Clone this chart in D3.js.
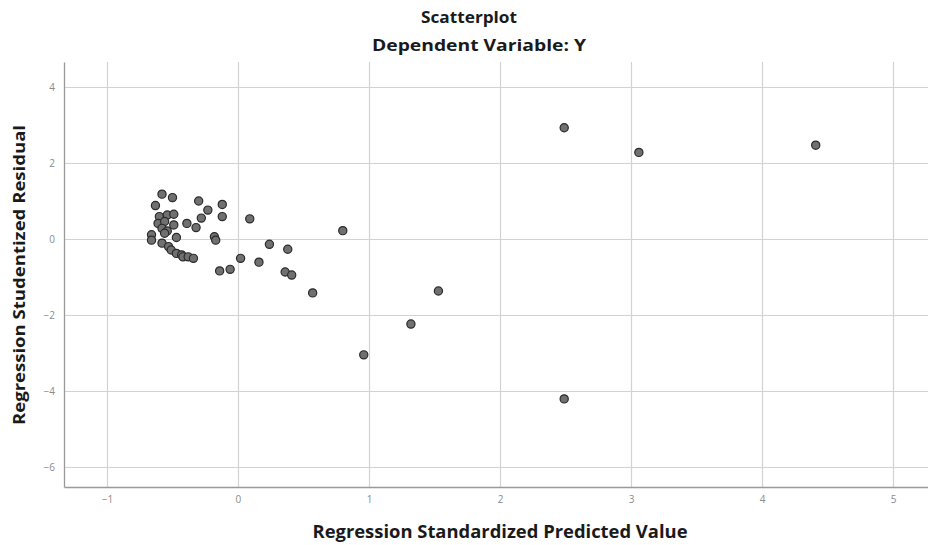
<!DOCTYPE html>
<html>
<head>
<meta charset="utf-8">
<script src="https://cdn.jsdelivr.net/npm/d3@7"></script>
<style>
  body { margin: 0; background: #fff; }
  svg text { font-family: "Open Sans", "DejaVu Sans", sans-serif; }
</style>
</head>
<body>
<script>
// standardized predicted values (x) and studentized residuals (y)
var predVals = [-0.58, -0.50, -0.63, -0.30, -0.23, -0.12, -0.28, -0.12, 0.09, -0.39,
                -0.32, -0.60, -0.54, -0.49, -0.61, -0.56, -0.49, -0.58, -0.54, -0.66,
                -0.66, -0.56, -0.58, -0.47, -0.53, -0.51, -0.47, -0.43, -0.42, -0.38,
                -0.34, -0.18, -0.17, 0.24, 0.38, 0.02, 0.16, -0.14, -0.06, 0.36,
                0.41, 0.80, 0.57, 1.53, 1.32, 0.96, 2.49, 2.49, 3.06, 4.41];
var residVals = [1.18, 1.09, 0.88, 1.00, 0.76, 0.91, 0.55, 0.59, 0.53, 0.41,
                 0.30, 0.59, 0.63, 0.65, 0.41, 0.46, 0.37, 0.28, 0.21, 0.11,
                 -0.03, 0.15, -0.11, 0.04, -0.20, -0.29, -0.38, -0.42, -0.47, -0.47,
                 -0.51, 0.06, -0.03, -0.14, -0.27, -0.51, -0.61, -0.84, -0.80, -0.87,
                 -0.95, 0.22, -1.42, -1.37, -2.24, -3.05, -4.21, 2.93, 2.28, 2.47];
var xTicks = [-1, 0, 1, 2, 3, 4, 5];
var yTicks = [-6, -4, -2, 0, 2, 4];

var W = 928, H = 545;
var pLeft = 64, pRight = 928, pTop = 62, pBottom = 487;

var svg = d3.select("body").append("svg")
    .attr("width", W)
    .attr("height", H);

var x = d3.scaleLinear().domain([-1.328, 5.267]).range([pLeft, pRight]);
var y = d3.scaleLinear().domain([-6.53, 4.66]).range([pBottom, pTop]);

// grid
svg.append("g").selectAll("line")
    .data(xTicks).enter().append("line")
    .attr("x1", function(d){ return Math.round(x(d)) + 0.5; })
    .attr("x2", function(d){ return Math.round(x(d)) + 0.5; })
    .attr("y1", pTop).attr("y2", pBottom)
    .attr("stroke", "#d2d2d2").attr("stroke-width", 1.2);
svg.append("g").selectAll("line")
    .data(yTicks).enter().append("line")
    .attr("x1", pLeft).attr("x2", pRight)
    .attr("y1", function(d){ return Math.round(y(d)) + 0.5; })
    .attr("y2", function(d){ return Math.round(y(d)) + 0.5; })
    .attr("stroke", "#d2d2d2").attr("stroke-width", 1.2);

// axes
var xAxis = svg.append("g")
    .attr("transform", "translate(0," + pBottom + ")")
    .call(d3.axisBottom(x).tickValues(xTicks).tickFormat(d3.format("d")).tickSize(0).tickPadding(9));
var yAxis = svg.append("g")
    .attr("transform", "translate(" + pLeft + ",0)")
    .call(d3.axisLeft(y).tickValues(yTicks).tickFormat(d3.format("d")).tickSize(0).tickPadding(9));
[xAxis, yAxis].forEach(function(a){
  a.select(".domain").attr("stroke", "#9a9a9a").attr("stroke-width", 1.3);
  a.selectAll("text").attr("fill", "#8a8a8a")
    .style("font-size", "10px")
    .style("font-family", "\"Open Sans\", sans-serif");
});

// points
svg.append("g").selectAll("circle")
    .data(predVals).enter().append("circle")
    .attr("cx", function(d){ return x(d); })
    .attr("cy", function(d, i){ return y(residVals[i]); })
    .attr("r", 4.1)
    .attr("fill", "#707070")
    .attr("stroke", "#2a2a2a")
    .attr("stroke-width", 1.2);

// titles
function title(txt, tx, ty, size, len, rot) {
  var t = svg.append("text")
      .attr("transform", "translate(" + tx + "," + ty + ")" + (rot ? " rotate(-90)" : ""))
      .attr("text-anchor", "middle")
      .style("font-size", size + "px").style("font-weight", "bold")
      .attr("fill", "#1a1a1a")
      .attr("textLength", len)
      .attr("lengthAdjust", "spacingAndGlyphs")
      .text(txt);
  return t;
}
title("Scatterplot", 469, 23, 16, 96);
title("Dependent Variable: Y", 479, 51, 16, 214);
title("Regression Standardized Predicted Value", 500, 538, 17, 375);
title("Regression Studentized Residual", 25, 275, 16, 300, true);
</script>
</body>
</html>
